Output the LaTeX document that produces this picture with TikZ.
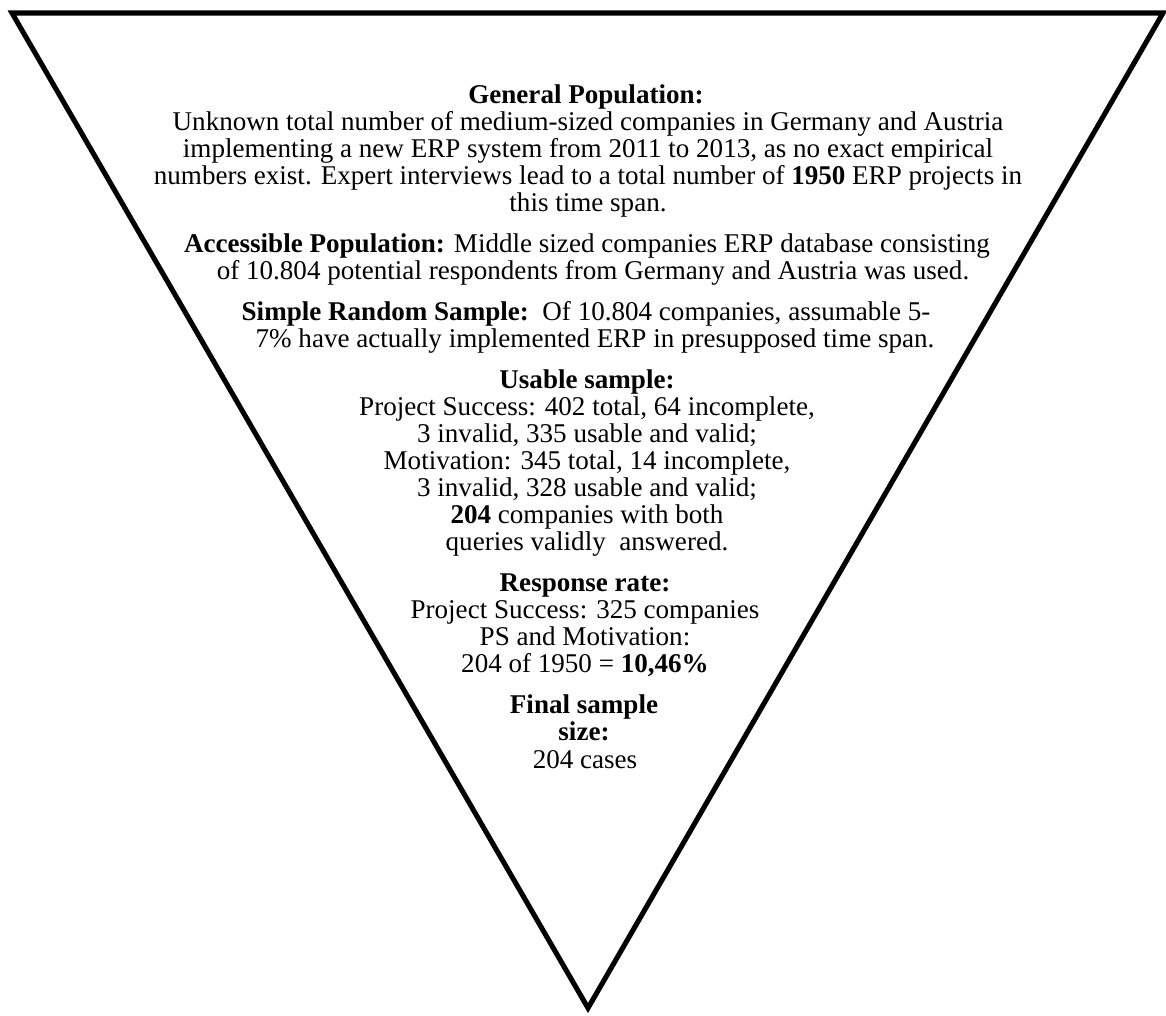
\documentclass[tikz,border=0pt]{standalone}
\usepackage{fontspec}
\setmainfont{Liberation Serif}
\begin{document}
\begin{tikzpicture}[x=0.75pt,y=-0.75pt,
  txt/.style={anchor=base,inner sep=0pt,font=\fontsize{20.3}{20.3}\selectfont},
  funnel/.style={draw=black,line width=3.8pt,line join=miter}]
\useasboundingbox (0,0) rectangle (1166,1015);
% funnel outline
\coordinate (tl) at (12,13);
\coordinate (tr) at (1163,13);
\coordinate (ap) at (588,1008);
\draw[funnel] (tl) -- (tr) -- (ap) -- cycle;
% general population
\node[txt] (g0) at (586,103) {\textbf{General Population:}};
\node[txt] (g1) at (588,130) {Unknown total number of medium-sized companies in Germany and Austria};
\node[txt] (g2) at (588,157) {implementing a new ERP system from 2011 to 2013, as no exact empirical};
\node[txt] (g3) at (588,184) {numbers exist. Expert interviews lead to a total number of \textbf{1950} ERP projects in};
\node[txt] (g4) at (588,211) {this time span.};
% accessible population
\node[txt] (a1) at (587,252) {\textbf{Accessible Population:} Middle sized companies ERP database consisting};
\node[txt] (a2) at (593,279) {of 10.804 potential respondents from Germany and Austria was used.};
% simple random sample
\node[txt] (s1) at (586,320) {\textbf{Simple Random Sample:}\ \ Of 10.804 companies, assumable 5-};
\node[txt] (s2) at (595,347) {7\% have actually implemented ERP in presupposed time span.};
% usable sample
\node[txt] (u0) at (587,388) {\textbf{Usable sample:}};
\node[txt] (u1) at (587,415) {Project Success: 402 total, 64 incomplete,};
\node[txt] (u2) at (587,442) {3 invalid, 335 usable and valid;};
\node[txt] (u3) at (587,469) {Motivation: 345 total, 14 incomplete,};
\node[txt] (u4) at (587,496) {3 invalid, 328 usable and valid;};
\node[txt] (u5) at (587,523) {\textbf{204} companies with both};
\node[txt] (u6) at (587,550) {queries validly\ \ answered.};
% response rate
\node[txt] (r0) at (585,591) {\textbf{Response rate:}};
\node[txt] (r1) at (585,618) {Project Success: 325 companies};
\node[txt] (r2) at (585,645) {PS and Motivation:};
\node[txt] (r3) at (585,672) {204 of 1950 = \textbf{10,46\%}};
% final sample size
\node[txt] (f0) at (584,713) {\textbf{Final sample}};
\node[txt] (f1) at (584,740) {\textbf{size:}};
\node[txt] (f2) at (585,768) {204 cases};
\end{tikzpicture}
\end{document}
